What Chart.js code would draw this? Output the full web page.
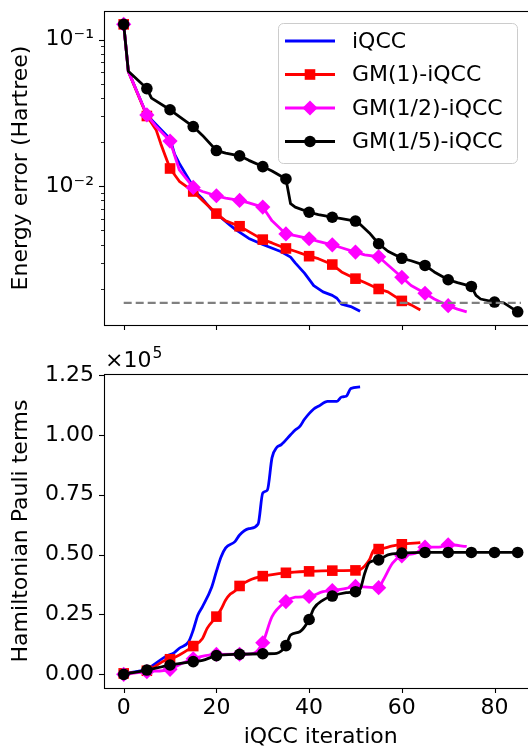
<!DOCTYPE html>
<html>
<head>
<meta charset="utf-8">
<script src="https://cdn.jsdelivr.net/npm/chart.js@4/dist/chart.umd.min.js"></script>
<style>
  html, body { margin: 0; padding: 0; background: #fff; overflow: hidden; width: 528px; height: 748px; }
  #wrap { position: relative; width: 545px; height: 750px; }
  canvas { position: absolute; left: 0; background: #fff; }
  #cA { top: 0; }
  #cB { top: 345px; }
</style>
</head>
<body>
<div id="wrap">
  <canvas id="cA" width="545" height="345"></canvas>
  <canvas id="cB" width="545" height="405"></canvas>
</div>
<script>
// ---------- data ----------
const seriesNames = ['iQCC', 'GM(1)-iQCC', 'GM(1/2)-iQCC', 'GM(1/5)-iQCC'];

// Energy error (Hartree) vs iteration
const iqccIterE = [0,1,5,10,11,12,14,16,17,19,20,23,24,27,30,34,36,37,39,41,43,45,46,47,49,51];
const iqccErr   = [0.127,0.0607,0.0306,0.0210,0.0165,0.0143,0.0112,0.0088,0.0082,0.0069,0.0065,0.0054,0.0051,0.0044,0.0040,0.00357,0.00328,0.0030,0.00255,0.0021,0.0019,0.0018,0.00172,0.00157,0.00151,0.0014];

const gm1IterE = [0,1,5,7,8,9,10,12,15,17,20,22,25,27,30,32,35,37,40,42,45,47,50,52,55,57,60,62,64];
const gm1Err   = [0.127,0.0607,0.0301,0.0242,0.0195,0.0160,0.0132,0.0108,0.0092,0.0080,0.0065,0.0058,0.00533,0.0049,0.00432,0.0041,0.00376,0.0036,0.00333,0.0032,0.00292,0.0026,0.00234,0.0022,0.00199,0.0019,0.00165,0.00155,0.00143];

const gm2IterE = [0,1,5,7,10,12,15,17,20,22,25,27,30,32,35,37,40,42,45,47,50,52,55,57,60,62,65,67,70,72,74];
const gm2Err   = [0.127,0.0607,0.0306,0.0255,0.0203,0.0129,0.0098,0.0092,0.0086,0.0083,0.0080,0.0077,0.0072,0.0058,0.00472,0.0046,0.00438,0.0042,0.00398,0.0038,0.00355,0.0034,0.0033,0.0029,0.00239,0.0021,0.00186,0.0017,0.00153,0.00145,0.00139];

const gm5IterE = [0,1,5,6,10,15,17,20,22,25,27,30,32,35,36,37,40,42,45,47,50,51,53,55,57,60,62,65,67,70,72,75,76,77,80,82,85];
const gm5Err   = [0.127,0.0607,0.0463,0.0399,0.0332,0.0255,0.0222,0.0175,0.0168,0.0161,0.0150,0.0136,0.0127,0.0112,0.0076,0.0072,0.00664,0.0064,0.00614,0.0060,0.00578,0.0055,0.0048,0.00405,0.0036,0.00322,0.0031,0.00288,0.0026,0.0023,0.0022,0.00207,0.0018,0.0017,0.00162,0.0016,0.00139];

// chemical accuracy reference line
const chemAccuracy = 1.6e-3;
const chemAccIter = [0, 85.7];

// Hamiltonian Pauli terms vs iteration
const iqccIterH = [0,5,9,11,12,14,15,16,17,19,20,21,22,24,25,27,29,30,31,32,33,34,36,37,38,39,41,42,44,46,47,48,49,51];
const iqccTerms = [400,2300,7400,9200,10900,13600,18500,24800,28300,36500,43000,49000,52800,55400,58200,60800,62800,75700,77000,90500,94700,95900,100000,102000,103500,106500,110800,111900,114000,114000,115800,116100,119300,120000];

const gm1IterH = [0,5,9,10,12,14,15,17,18,20,21,22,23,24,25,27,30,35,40,45,50,51,53,54,55,58,60,64];
const gm1Terms = [400,1500,5900,6300,8100,10400,11800,15000,19200,24100,27200,31000,33500,34800,36900,39200,41000,42400,43000,43300,43400,43700,47800,52000,52300,53600,54300,55000];

const gm2IterH = [0,5,10,12,15,20,25,28,30,32,35,37,40,43,45,48,50,55,56,58,60,63,65,68,70,74];
const gm2Terms = [0,1100,2100,4000,6500,8300,8400,8800,13200,24100,30400,32200,32500,34500,35000,35900,36700,36200,39400,46400,49500,50600,53100,53100,54100,53400];

const gm5IterH = [0,5,10,15,17,20,25,30,33,35,36,38,40,41,43,45,48,50,51,52,53,55,57,60,65,70,75,80,85];
const gm5Terms = [0,1800,3900,5300,5800,7800,8400,8600,8800,12000,16400,17800,22900,27500,31000,32700,34100,34500,35500,42200,46700,47800,49900,50600,50900,50900,50900,50900,50900];

// tick labels
const xTicks = [0, 20, 40, 60, 80];
const errMajorTicks = [0.01, 0.1];
const errMajorLabels = ['10\u207B\u00B2', '10\u207B\u00B9'];
const termTicks = [0, 25000, 50000, 75000, 100000, 125000];

// ---------- styling ----------
const FONT = "'DejaVu Sans', sans-serif";
Chart.defaults.font.family = FONT;
Chart.defaults.font.size = 22;
Chart.defaults.color = '#000';

const styles = [
  { color: '#0000ff', marker: null,   r: 0 },
  { color: '#ff0000', marker: 'rect', r: 7.5 },
  { color: '#ff00ff', marker: 'rectRot', r: 7.6 },
  { color: '#000000', marker: 'circle', r: 5.8 }
];

function pts(xs, ys) { return xs.map((x, i) => ({ x: x, y: ys[i] })); }

function makeDataset(k, xs, ys, smooth) {
  const s = styles[k];
  const ds = {
    label: seriesNames[k],
    data: pts(xs, ys),
    borderColor: s.color,
    backgroundColor: s.color,
    borderWidth: 2.8,
    borderJoinStyle: 'round',
    borderCapStyle: 'butt',
    pointStyle: s.marker || 'circle',
    pointRadius: (c) => (s.marker && c.raw && c.raw.x % 5 === 0) ? s.r : 0,
    pointBorderWidth: 0,
    pointBackgroundColor: s.color,
    pointBorderColor: s.color,
    order: 4 - k,
    clip: false
  };
  if (smooth) ds.cubicInterpolationMode = 'monotone'; else ds.tension = 0;
  return ds;
}

function noPad(s) { s.paddingTop = 0; s.paddingBottom = 0; s.paddingLeft = 0; s.paddingRight = 0; }

// frame + tick marks
function drawTickLine(ctx, x1, y1, x2, y2, w) {
  ctx.lineWidth = w;
  ctx.beginPath(); ctx.moveTo(x1, y1); ctx.lineTo(x2, y2); ctx.stroke();
}
const frameTicks = {
  id: 'frameTicks',
  afterDatasetsDraw(chart, args, opts) {
    const { ctx, chartArea: a, scales } = chart;
    ctx.save();
    ctx.strokeStyle = '#000';
    ctx.lineWidth = 1.1;
    ctx.strokeRect(Math.round(a.left) + 0.5, Math.round(a.top) + 0.5,
                   Math.round(a.right - a.left), Math.round(a.bottom - a.top));
    const xs = scales.x;
    for (const v of xTicks) {
      const p = Math.round(xs.getPixelForValue(v)) + 0.5;
      drawTickLine(ctx, p, a.bottom, p, a.bottom + 5, 1.1);
    }
    const ys = scales.y;
    for (const v of opts.major) {
      const p = Math.round(ys.getPixelForValue(v)) + 0.5;
      drawTickLine(ctx, a.left - 5, p, a.left, p, 1.1);
    }
    for (const v of (opts.minor || [])) {
      const p = Math.round(ys.getPixelForValue(v)) + 0.5;
      drawTickLine(ctx, a.left - 3, p, a.left, p, 0.85);
    }
    ctx.restore();
  }
};

function drawMarker(ctx, type, x, y, r) {
  ctx.beginPath();
  if (type === 'rect') {
    const h = r * Math.SQRT1_2;
    ctx.rect(x - h, y - h, 2 * h, 2 * h);
  } else if (type === 'rectRot') {
    ctx.moveTo(x, y - r); ctx.lineTo(x + r, y); ctx.lineTo(x, y + r); ctx.lineTo(x - r, y); ctx.closePath();
  } else if (type === 'circle') {
    ctx.arc(x, y, r, 0, Math.PI * 2);
  }
  ctx.fill();
}

const legendBox = {
  id: 'legendBox',
  afterDraw(chart) {
    const ctx = chart.ctx;
    ctx.save();
    const bx = 278.5, by = 23.5, bw = 239, bh = 140, rr = 5;
    ctx.beginPath();
    ctx.moveTo(bx + rr, by);
    ctx.arcTo(bx + bw, by, bx + bw, by + bh, rr);
    ctx.arcTo(bx + bw, by + bh, bx, by + bh, rr);
    ctx.arcTo(bx, by + bh, bx, by, rr);
    ctx.arcTo(bx, by, bx + bw, by, rr);
    ctx.closePath();
    ctx.fillStyle = 'rgba(255,255,255,0.8)';
    ctx.fill();
    ctx.strokeStyle = '#cccccc';
    ctx.lineWidth = 1;
    ctx.stroke();
    const rowY = [41, 74.5, 108, 141.5];
    ctx.font = '22px ' + FONT;
    ctx.textBaseline = 'middle';
    ctx.textAlign = 'left';
    for (let k = 0; k < 4; k++) {
      const s = styles[k];
      ctx.strokeStyle = s.color;
      ctx.fillStyle = s.color;
      ctx.lineWidth = 2.8;
      ctx.beginPath(); ctx.moveTo(285, rowY[k]); ctx.lineTo(335, rowY[k]); ctx.stroke();
      if (s.marker) drawMarker(ctx, s.marker, 310, rowY[k], s.r);
      ctx.fillStyle = '#000';
      ctx.fillText(seriesNames[k], 352, rowY[k] + 1);
    }
    ctx.restore();
  }
};

const offsetText = {
  id: 'offsetText',
  afterDraw(chart) {
    const ctx = chart.ctx, a = chart.chartArea;
    ctx.save();
    ctx.fillStyle = '#000';
    ctx.textBaseline = 'alphabetic';
    ctx.textAlign = 'left';
    ctx.font = '22px ' + FONT;
    const base = a.top - 7;
    const t = '\u00D710';
    ctx.fillText(t, a.left + 1, base);
    const w = ctx.measureText(t).width;
    ctx.font = '15.5px ' + FONT;
    ctx.fillText('5', a.left + 1 + w + 1, base - 9);
    ctx.restore();
  }
};

// minor ticks for the log axis
const errMinorTicks = [];
for (const d of [0.001, 0.01]) for (let m = 2; m <= 9; m++) errMinorTicks.push(m * d);

// ---------- top chart ----------
new Chart(document.getElementById('cA'), {
  type: 'line',
  data: {
    datasets: [
      makeDataset(0, iqccIterE, iqccErr, false),
      makeDataset(1, gm1IterE, gm1Err, false),
      makeDataset(2, gm2IterE, gm2Err, false),
      makeDataset(3, gm5IterE, gm5Err, false),
      {
        label: 'chemical accuracy',
        data: pts(chemAccIter, chemAccIter.map(() => chemAccuracy)),
        borderColor: '#808080',
        borderWidth: 2.1,
        borderDash: [8, 4],
        pointRadius: 0,
        order: 0
      }
    ]
  },
  options: {
    responsive: false,
    animation: false,
    events: [],
    devicePixelRatio: 1,
    layout: { padding: { top: 11, right: 5, left: 0, bottom: 0 } },
    plugins: { legend: { display: false }, tooltip: { enabled: false },
               frameTicks: { major: errMajorTicks, minor: errMinorTicks } },
    scales: {
      x: {
        type: 'linear', min: -4.25, max: 89.25,
        grid: { display: false, drawTicks: false }, border: { display: false },
        ticks: { display: false },
        afterFit: (s) => { s.height = 20; noPad(s); }
      },
      y: {
        type: 'logarithmic', min: 0.00113, max: 0.1566,
        grid: { display: false, drawTicks: false }, border: { display: false },
        afterBuildTicks: (s) => { s.ticks = errMajorTicks.map(v => ({ value: v, major: true })); },
        ticks: {
          padding: 10,
          font: { size: 22 },
          callback: (v) => { const i = errMajorTicks.findIndex(t => Math.abs(t - v) / t < 1e-6); return i >= 0 ? errMajorLabels[i] : ''; }
        },
        title: { display: true, text: 'Energy error (Hartree)', font: { size: 22 }, padding: { top: 8, bottom: 0 } },
        afterFit: (s) => { s.width = 104; noPad(s); }
      }
    }
  },
  plugins: [frameTicks, legendBox]
});

// ---------- bottom chart ----------
new Chart(document.getElementById('cB'), {
  type: 'line',
  data: {
    datasets: [
      makeDataset(0, iqccIterH, iqccTerms, true),
      makeDataset(1, gm1IterH, gm1Terms, true),
      makeDataset(2, gm2IterH, gm2Terms, true),
      makeDataset(3, gm5IterH, gm5Terms, true)
    ]
  },
  options: {
    responsive: false,
    animation: false,
    events: [],
    devicePixelRatio: 1,
    layout: { padding: { top: 29, right: 5, left: 0, bottom: 0 } },
    plugins: { legend: { display: false }, tooltip: { enabled: false },
               frameTicks: { major: termTicks, minor: [] } },
    scales: {
      x: {
        type: 'linear', min: -4.25, max: 89.25,
        grid: { display: false, drawTicks: false }, border: { display: false },
        afterBuildTicks: (s) => { s.ticks = xTicks.map(v => ({ value: v })); },
        ticks: { padding: 7, font: { size: 22 }, maxRotation: 0, autoSkip: false },
        title: { display: true, text: 'iQCC iteration', font: { size: 22, lineHeight: 1.2 }, padding: { top: 0, bottom: 0 } },
        afterFit: (s) => { s.height = 62; noPad(s); }
      },
      y: {
        type: 'linear', min: -5700, max: 125400,
        grid: { display: false, drawTicks: false }, border: { display: false },
        afterBuildTicks: (s) => { s.ticks = termTicks.map(v => ({ value: v })); },
        ticks: { padding: 10, font: { size: 22 }, callback: (v) => (v / 1e5).toFixed(2) },
        title: { display: true, text: 'Hamiltonian Pauli terms', font: { size: 22 }, padding: { top: 8, bottom: 0 } },
        afterFit: (s) => { s.width = 104; noPad(s); }
      }
    }
  },
  plugins: [frameTicks, offsetText]
});
</script>
</body>
</html>
